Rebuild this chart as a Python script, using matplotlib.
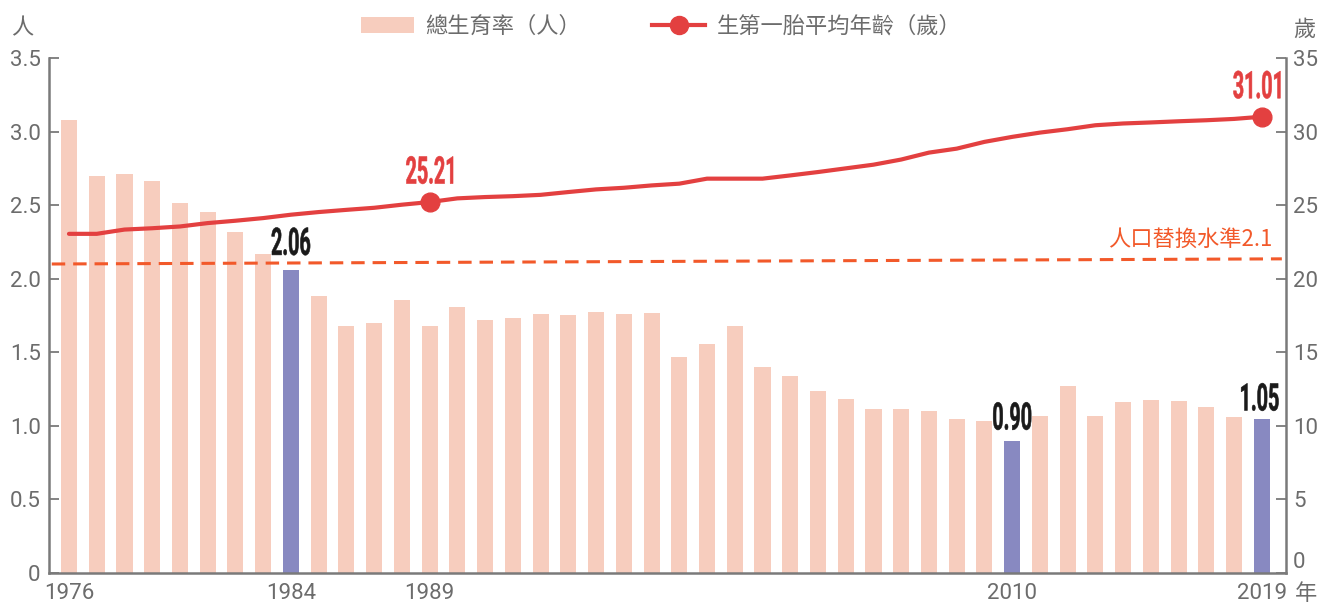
import matplotlib

matplotlib.use("Agg")
import matplotlib.pyplot as plt  # noqa: E402
import matplotlib.transforms as mtransforms  # noqa: E402
from matplotlib import font_manager  # noqa: E402
from matplotlib.font_manager import FontProperties  # noqa: E402
from matplotlib.lines import Line2D  # noqa: E402
from matplotlib.patches import Patch, PathPatch  # noqa: E402
from matplotlib.textpath import TextPath  # noqa: E402

# data
years = list(range(1976, 2020))
tfr = [3.08, 2.70, 2.71, 2.665, 2.515, 2.455, 2.32, 2.17, 2.06, 1.88,
       1.68, 1.70, 1.855, 1.68, 1.81, 1.72, 1.73, 1.76, 1.755, 1.775,
       1.76, 1.77, 1.465, 1.555, 1.68, 1.40, 1.34, 1.235, 1.18, 1.115,
       1.115, 1.10, 1.05, 1.03, 0.90, 1.065, 1.27, 1.065, 1.165, 1.175,
       1.17, 1.125, 1.06, 1.05]
first_birth_age = [23.05, 23.05, 23.34, 23.43, 23.55, 23.78, 23.94, 24.12, 24.35, 24.53,
                   24.68, 24.82, 25.03, 25.21, 25.46, 25.55, 25.61, 25.70, 25.89, 26.07,
                   26.18, 26.34, 26.46, 26.80, 26.80, 26.80, 27.02, 27.25, 27.50, 27.75,
                   28.10, 28.57, 28.84, 29.30, 29.64, 29.93, 30.16, 30.43, 30.55, 30.62,
                   30.70, 30.77, 30.86, 31.01]
highlight_years = [1984, 2010, 2019]
age_marked_years = [1989, 2019]
replacement_level = [2.10, 2.135]  # dashed line drifts slightly upward in the source
xtick_years = [1976, 1984, 1989, 2010, 2019]
left_ticks = [0, 0.5, 1.0, 1.5, 2.0, 2.5, 3.0, 3.5]
left_ticklabels = ["0", "0.5", "1.0", "1.5", "2.0", "2.5", "3.0", "3.5"]
right_ticks = [0, 5, 10, 15, 20, 25, 30, 35]

PINK = "#F7CDBE"
PURPLE = "#8889C1"
RED = "#E34040"
ORANGE = "#F2592A"
GRAY = "#6C6C6C"
AXIS = "#7A7A7A"

installed = {f.name for f in font_manager.fontManager.ttflist}
num_family = "Roboto" if "Roboto" in installed else "DejaVu Sans"
NUM_PROP = FontProperties(family=num_family, weight="bold")

plt.rcParams["font.family"] = ["Noto Sans CJK TC", "DejaVu Sans"]
plt.rcParams["font.weight"] = "light"

fig = plt.figure(figsize=(13.3, 6.05), dpi=100)
ax = fig.add_axes([49 / 1330, 1 - 573 / 605, 1237 / 1330, 515 / 605])
ax2 = ax.twinx()


def condensed_label(axis, x, y, s, color, dy, dx=0.0, em=38, sx=0.52):
    """Narrow bold number above a data point, drawn as a squeezed text path (pixels)."""
    tp = TextPath((0, 0), s, size=em, prop=NUM_PROP)
    ext = tp.get_extents()
    tr = (mtransforms.Affine2D().translate(-(ext.x0 + ext.x1) / 2, 0)
          .scale(sx, 1).translate(dx, dy)
          + mtransforms.ScaledTranslation(x, y, axis.transData))
    axis.add_patch(PathPatch(tp, transform=tr, facecolor=color, edgecolor=color,
                             linewidth=0.4, zorder=6, clip_on=False))


colors = [PURPLE if y in highlight_years else PINK for y in years]
ax.bar(years, tfr, width=0.58, color=colors, zorder=2)

xmin, xmax = years[0] - 0.72, years[-1] + 0.87
ax.set_xlim(xmin, xmax)
ax.set_ylim(0, 3.5)
ax2.set_ylim(0, 35)

ax.plot([xmin + 0.1, xmax - 0.15], replacement_level, color=ORANGE, lw=2.2,
        dashes=(4.4, 2.6), zorder=3)
ax.annotate("人口替換水準2.1", xy=(xmax - 0.5, replacement_level[1]), xytext=(0, 6),
            textcoords="offset points", ha="right", va="bottom",
            color=ORANGE, fontsize=16)

bar_label_dy = {1984: 15, 2010: 11, 2019: 8}
for yr in highlight_years:
    v = tfr[years.index(yr)]
    condensed_label(ax, yr, v, f"{v:.2f}", "#1A1A1A", bar_label_dy[yr],
                    dx=-2 if yr == years[-1] else 0)

ax2.plot(years, first_birth_age, color=RED, lw=3, solid_capstyle="round", zorder=4)
marked = [first_birth_age[years.index(y)] for y in age_marked_years]
ax2.plot(age_marked_years, marked, "o", color=RED, ms=13.5, zorder=5)
for yr, v in zip(age_marked_years, marked):
    condensed_label(ax2, yr, v, f"{v:.2f}", RED, 18.5,
                    dx=-5 if yr == years[-1] else 0)

# axes styling
for s in ["top", "right"]:
    ax.spines[s].set_visible(False)
for s in ["top", "left", "bottom"]:
    ax2.spines[s].set_visible(False)
ax.spines["left"].set_color(AXIS)
ax.spines["bottom"].set_color(AXIS)
ax2.spines["right"].set_color(AXIS)
for sp in (ax.spines["left"], ax.spines["bottom"], ax2.spines["right"]):
    sp.set_linewidth(1.8)

ax.set_yticks(left_ticks)
ax.set_yticklabels(left_ticklabels)
ax2.set_yticks(right_ticks)
ax.set_xticks(xtick_years)
tick_font = dict(labelcolor=GRAY, labelsize=16, labelfontfamily="Roboto")
ax.tick_params(axis="y", direction="in", length=7, width=1.3, color=AXIS, pad=6, **tick_font)
ax2.tick_params(axis="y", direction="in", length=7, width=1.3, color=AXIS, pad=5, **tick_font)
ax.tick_params(axis="x", length=0, pad=7, **tick_font)
for lab in ax.get_xticklabels() + ax.get_yticklabels() + ax2.get_yticklabels():
    lab.set_fontweight("normal")
ax2.get_yticklabels()[0].set_verticalalignment("bottom")

fig.text(22 / 1330, 1 - 28 / 605, "人", color=GRAY, fontsize=16, ha="center", va="center")
fig.text(1304 / 1330, 1 - 29 / 605, "歲", color=GRAY, fontsize=16, ha="center", va="center")
fig.text(1306 / 1330, 1 - 593 / 605, "年", color=GRAY, fontsize=16, ha="center", va="center")

handles = [Patch(facecolor=PINK, edgecolor="none"),
           Line2D([0], [0], color=RED, lw=3, marker="o", ms=13)]
leg = fig.legend(handles, ["總生育率（人）", "生第一胎平均年齡（歲）"], ncol=2,
                 loc="center", bbox_to_anchor=(0.497, 1 - 26 / 605), frameon=False,
                 fontsize=16, handlelength=2.4, handleheight=0.7, handletextpad=0.5,
                 columnspacing=3.2, labelcolor=GRAY)

fig.savefig("out.png", dpi=100)
